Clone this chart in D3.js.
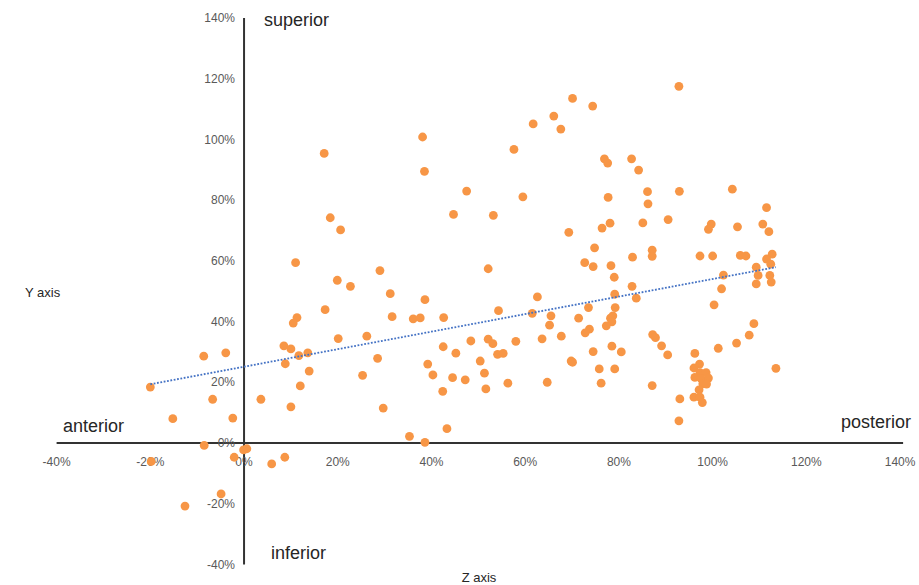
<!DOCTYPE html>
<meta charset="utf-8">
<style>
body { margin: 0; background: #fff; }
svg { font-family: "Liberation Sans", Arial, sans-serif; }
.tick-label { font-size: 12px; fill: #595959; }
.region { font-size: 18px; fill: #262626; }
.axis-title { font-size: 13px; fill: #262626; }
</style>
<body>
<script src="https://d3js.org/d3.v7.min.js"></script>
<script>
// values, in percent
var zVals = [8.5, 10.0, 11.7, 13.6, -8.6, -3.9, 8.8, 13.9, -20.0, 12.0,
  -6.7, 3.6, 10.0, -15.2, -2.4, -8.5, -2.1, -0.1, 0.6, 8.7,
  5.9, -4.9, -12.6, -19.8, 20.1, 26.2, 28.5, 25.3, 29.7, 39.2,
  40.3, 42.5, 42.4, 43.3, 35.3, 38.6, 38.1, 17.1, 38.5, 18.4,
  20.6, 11.0, 29.0, 19.9, 22.7, 31.2, 38.6, 17.3, 11.3, 10.5,
  31.6, 36.1, 37.6, 70.1, 74.4, 66.1, 61.7, 67.6, 57.6, 76.9,
  77.6, 47.5, 59.5, 77.7, 44.7, 53.2, 69.3, 78.1, 76.4, 74.8,
  72.7, 74.5, 78.3, 79.0, 52.1, 79.1, 62.6, 54.3, 73.5, 79.2,
  42.6, 61.5, 65.5, 65.2, 71.4, 78.2, 78.7, 78.5, 77.3, 73.7,
  72.8, 67.7, 63.6, 58.0, 52.1, 53.1, 48.4, 45.2, 54.1, 55.3,
  50.4, 69.8, 70.1, 74.5, 78.5, 80.5, 44.5, 47.2, 51.3, 51.6,
  56.3, 64.7, 75.8, 79.1, 76.2, 92.8, 82.7, 84.2, 86.1, 92.9,
  86.2, 104.2, 111.5, 85.1, 90.5, 99.7, 99.1, 105.3, 110.7, 112.0,
  87.1, 87.1, 82.9, 97.3, 100.0, 105.9, 107.1, 112.7, 111.5, 112.4,
  109.3, 109.7, 109.3, 112.2, 112.5, 102.3, 101.9, 82.8, 83.7, 100.3,
  108.8, 107.8, 105.1, 101.2, 87.2, 87.8, 89.1, 90.4, 96.2, 97.2,
  96.0, 97.3, 98.6, 96.2, 97.5, 99.1, 97.9, 98.7, 97.1, 96.0,
  97.3, 97.8, 87.1, 93.0, 92.8, 113.5];

var yVals = [32.0, 31.0, 28.8, 29.7, 28.6, 29.7, 26.1, 23.7, 18.4, 18.8,
  14.4, 14.4, 11.9, 8.0, 8.2, -0.8, -4.7, -2.3, -1.9, -4.7,
  -6.9, -16.8, -20.8, -6.1, 34.4, 35.2, 27.9, 22.3, 11.5, 26.0,
  22.4, 31.7, 17.0, 4.7, 2.2, 0.2, 100.8, 95.4, 89.5, 74.2,
  70.2, 59.4, 56.8, 53.6, 51.6, 49.2, 47.2, 43.9, 41.3, 39.5,
  41.6, 40.9, 41.2, 113.5, 111.0, 107.7, 105.1, 103.4, 96.7, 93.6,
  92.2, 83.0, 81.1, 80.9, 75.3, 75.0, 69.4, 72.4, 70.8, 64.3,
  59.4, 58.1, 58.4, 54.6, 57.4, 49.0, 48.1, 43.6, 44.6, 44.6,
  41.3, 42.7, 41.9, 38.8, 41.1, 41.1, 41.9, 39.9, 38.6, 37.5,
  36.3, 35.2, 34.3, 33.5, 34.2, 32.7, 33.6, 29.6, 29.2, 29.5,
  27.0, 27.0, 26.6, 30.1, 31.9, 30.0, 21.5, 20.8, 23.0, 17.8,
  19.7, 20.0, 24.4, 24.4, 19.7, 117.5, 93.6, 89.9, 82.8, 82.9,
  78.8, 83.6, 77.5, 72.5, 73.6, 72.1, 70.4, 71.2, 72.1, 69.6,
  63.5, 61.5, 61.2, 61.6, 61.6, 61.8, 61.6, 62.2, 60.6, 58.9,
  57.9, 55.2, 52.4, 55.2, 53.0, 55.3, 50.8, 51.6, 47.7, 45.5,
  39.3, 35.5, 32.9, 31.2, 35.7, 34.7, 32.0, 29.0, 29.5, 26.0,
  24.7, 23.2, 23.2, 21.6, 21.3, 21.4, 19.5, 19.4, 17.5, 15.1,
  15.1, 13.3, 18.9, 14.5, 7.3, 24.6];

var tickVals = [-40, -20, 0, 20, 40, 60, 80, 100, 120, 140];

var width = 919, height = 585;

var x = d3.scaleLinear().domain([-40, 140]).range([56.6, 900.1]);
var y = d3.scaleLinear().domain([-40, 140]).range([564.4, 18]);

var svg = d3.select("body").append("svg")
    .attr("width", width)
    .attr("height", height);

// axes cross at zero
svg.append("line")
    .attr("x1", x(-40)).attr("x2", x(140) + 3)
    .attr("y1", y(0)).attr("y2", y(0))
    .attr("stroke", "#333").attr("stroke-width", 2);
svg.append("line")
    .attr("x1", x(0)).attr("x2", x(0))
    .attr("y1", y(140)).attr("y2", y(-40))
    .attr("stroke", "#333").attr("stroke-width", 2);

svg.selectAll(".xt").data(tickVals).enter().append("text")
    .attr("class", "tick-label")
    .attr("x", function(d) { return x(d); })
    .attr("y", y(0) + 23)
    .attr("text-anchor", "middle")
    .text(function(d) { return d + "%"; });

svg.selectAll(".yt").data(tickVals).enter().append("text")
    .attr("class", "tick-label")
    .attr("x", x(0) - 9)
    .attr("y", function(d) { return y(d); })
    .attr("dy", "0.35em")
    .attr("text-anchor", "end")
    .text(function(d) { return d + "%"; });

// points
var pts = zVals.map(function(v, i) { return [v, yVals[i]]; });

svg.selectAll("circle").data(pts).enter().append("circle")
    .attr("cx", function(d) { return x(d[0]); })
    .attr("cy", function(d) { return y(d[1]); })
    .attr("r", 4.4)
    .attr("fill", "#F79646");

// linear trendline, least squares over the points
var mx = d3.mean(zVals), my = d3.mean(yVals);
var sxy = d3.sum(pts, function(d) { return (d[0] - mx) * (d[1] - my); });
var sxx = d3.sum(pts, function(d) { return (d[0] - mx) * (d[0] - mx); });
var slope = sxy / sxx, icept = my - slope * mx;
var ext = d3.extent(zVals);

svg.append("line")
    .attr("x1", x(ext[0])).attr("y1", y(icept + slope * ext[0]))
    .attr("x2", x(ext[1])).attr("y2", y(icept + slope * ext[1]))
    .attr("stroke", "#4472C4")
    .attr("stroke-width", 1.8)
    .attr("stroke-dasharray", "1.8,1.6");

// region labels
svg.append("text").attr("class", "region").attr("x", 264).attr("y", 20).attr("dy", "0.35em").text("superior");
svg.append("text").attr("class", "region").attr("x", 271).attr("y", 553).attr("dy", "0.35em").text("inferior");
svg.append("text").attr("class", "region").attr("x", 63).attr("y", 426).attr("dy", "0.35em").text("anterior");
svg.append("text").attr("class", "region").attr("x", 911).attr("y", 422).attr("dy", "0.35em")
    .attr("text-anchor", "end").text("posterior");

svg.append("text").attr("class", "axis-title").attr("x", 25).attr("y", 292).attr("dy", "0.35em").text("Y axis");
svg.append("text").attr("class", "axis-title").attr("x", 479).attr("y", 577).attr("dy", "0.35em")
    .attr("text-anchor", "middle").text("Z axis");
</script>
</body>
